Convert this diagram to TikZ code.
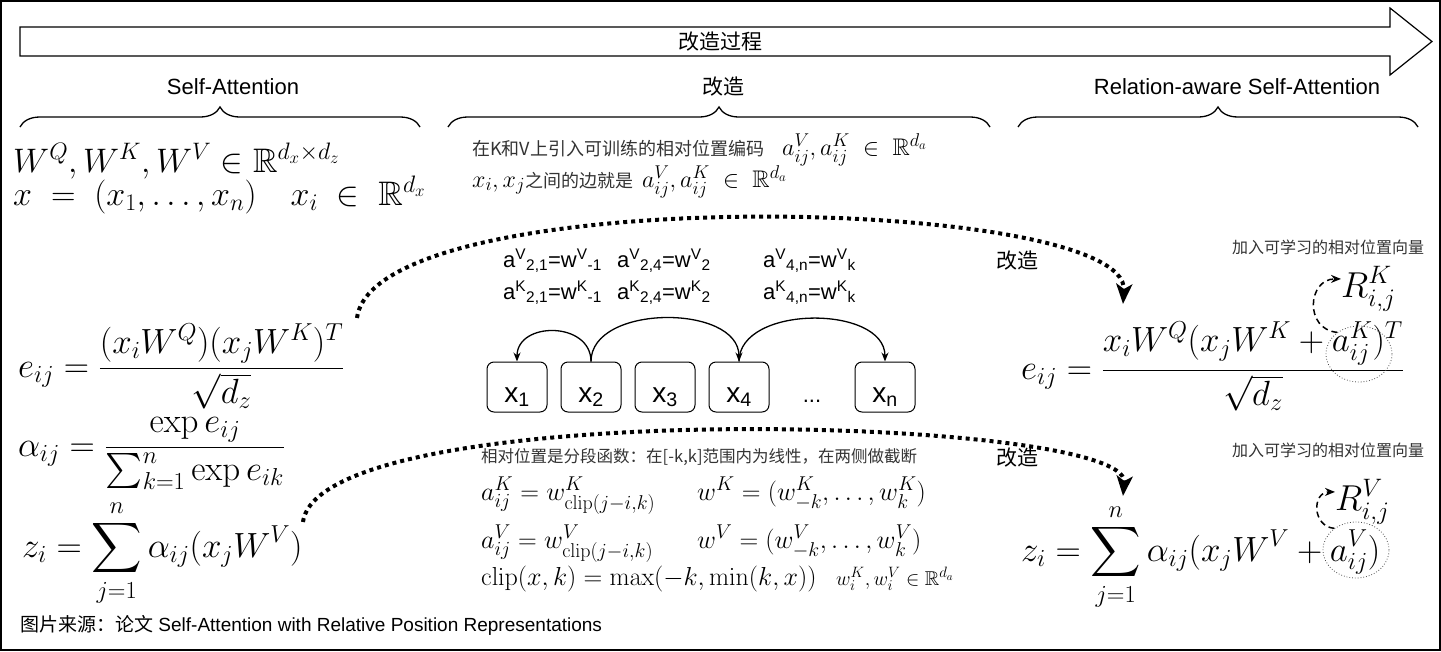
\RequirePackage{fix-cm}
\documentclass[tikz,border=0pt]{standalone}
\usepackage{amsmath,amssymb}
\usepackage[no-math]{fontspec}
\newfontfamily\arialfont{Liberation Sans}
\newfontfamily\cjkfont{Noto Sans CJK SC}
\usetikzlibrary{positioning, decorations.pathreplacing, arrows.meta, shapes.geometric}
\definecolor{inkgray}{HTML}{333333}
\DeclareMathSizes{20}{20}{15}{11}
\DeclareMathSizes{24}{24}{18.5}{13}
\DeclareMathSizes{26}{26}{20}{14}
\DeclareMathSizes{34}{34}{23.8}{17}
\DeclareMathSizes{35}{35}{24.5}{17.5}
\DeclareMathSizes{36}{36}{25.2}{18}
\newcommand{\fs}[1]{\fontsize{#1}{#1}\selectfont}
\newcommand{\mq}[1]{{\color{black}\fs{24}$#1$}}

\begin{document}
\begin{tikzpicture}[x=1pt, y=1pt,
  lbl/.style={font=\arialfont\fs{22}, inner sep=0pt},
  cjklbl/.style={font=\cjkfont\fs{21}, inner sep=0pt},
  note/.style={font=\cjkfont\fs{18}, text=inkgray, inner sep=0pt, anchor=base west},
  bigmath/.style={font=\fs{35}, inner sep=0pt, anchor=base west},
  midmath/.style={font=\fs{26}, inner sep=0pt, anchor=base west},
  arow/.style={font=\arialfont\fs{22}, inner sep=0pt, anchor=base west},
  xtxt/.style={font=\arialfont\fs{28}, text height=30pt, text depth=0pt, inner sep=0pt},
  xbox/.style={xtxt, draw, line width=1pt, rounded corners=7pt, minimum width=60pt, minimum height=50pt},
  brc/.style={decorate, decoration={brace, amplitude=20pt}, line width=1.3pt},
  hop/.style={-{Stealth[length=9pt,width=7pt]}, line width=1.3pt},
  bigdot/.style={line width=4pt, dash pattern=on 4pt off 4pt, -{Stealth[length=20pt,width=16pt,inset=5pt]}},
  dashhop/.style={line width=1.5pt, dash pattern=on 6pt off 4pt, -{Stealth[length=10pt,width=8pt]}},
  ring/.style={draw, dotted, black!70, line width=0.8pt, ellipse, minimum width=66pt, minimum height=56pt, inner sep=0pt}]
\useasboundingbox (0,0) rectangle (1441,-651);
\draw[line width=1.5pt] (0.75,-0.75) rectangle (1440,-650);

% process arrow
\draw[line width=1.2pt] (20,-27) -- (1390,-27) -- (1390,-8) -- (1432,-41.5) -- (1390,-75) -- (1390,-56) -- (20,-56) -- cycle;
\node[cjklbl] (proc) at (720,-41.5) {改造过程};

% headings
\node[lbl] (sa) at (233,-87) {Self-Attention};
\node[cjklbl] (gz) at (723,-87) {改造};
\node[lbl] (rsa) at (1237,-87) {Relation-aware Self-Attention};
\draw[brc] (20,-127) -- (420,-127);
\draw[brc] (448,-127) -- (990,-127);
\draw[brc] (1018,-127) -- (1418,-127);

% self-attention
\node[bigmath, font=\fs{34}] (wqkv) at (13,-172) {$W^Q, W^K, W^V \in \mathbb{R}^{d_x\times d_z}$};
\node[bigmath, font=\fs{34}] (xvec) at (13,-205) {$x \;=\; (x_1,\ldots,x_n) \quad x_i \;\in\; \mathbb{R}^{d_x}$};
\node[bigmath] (el) at (18,-377) {$\displaystyle e_{ij} = \frac{(x_iW^Q)(x_jW^K)^T}{\sqrt{d_z}}$};
\node[bigmath] (al) at (18,-456) {$\displaystyle \alpha_{ij} = \frac{\exp e_{ij}}{\sum_{k=1}^n \exp e_{ik}}$};
\node[bigmath] (zl) at (22,-557) {$\displaystyle z_i = \sum_{j=1}^n \alpha_{ij}(x_jW^V)$};

% middle part
\node[note] (kv) at (472,-155) {在K和V上引入可训练的相对位置编码\quad\mq{a^V_{ij}, a^K_{ij} \;\in\; \mathbb{R}^{d_a}}};
\node[note] (edge) at (472,-187) {\mq{x_i, x_j}之间的边就是\enspace\mq{a^V_{ij}, a^K_{ij} \;\in\; \mathbb{R}^{d_a}}};

\node[arow] (av21) at (503,-267) {a\textsuperscript{V}\textsubscript{2,1}=w\textsuperscript{V}\textsubscript{-1}};
\node[arow] (av24) at (617,-267) {a\textsuperscript{V}\textsubscript{2,4}=w\textsuperscript{V}\textsubscript{2}};
\node[arow] (av4n) at (763,-267) {a\textsuperscript{V}\textsubscript{4,n}=w\textsuperscript{V}\textsubscript{k}};
\node[arow] (ak21) at (503,-299) {a\textsuperscript{K}\textsubscript{2,1}=w\textsuperscript{K}\textsubscript{-1}};
\node[arow] (ak24) at (617,-299) {a\textsuperscript{K}\textsubscript{2,4}=w\textsuperscript{K}\textsubscript{2}};
\node[arow] (ak4n) at (763,-299) {a\textsuperscript{K}\textsubscript{4,n}=w\textsuperscript{K}\textsubscript{k}};

\node[xbox] (x1) at (517,-387) {x\textsubscript{1}};
\node[xbox, right=13pt of x1] (x2) {x\textsubscript{2}};
\node[xbox, right=13pt of x2] (x3) {x\textsubscript{3}};
\node[xbox, right=13pt of x3] (x4) {x\textsubscript{4}};
\node[xbox, right=85pt of x4] (xn) {x\textsubscript{n}};
\path (x4) -- (xn) node[midway, xtxt, font=\arialfont\fs{22}] (dots) {...};
\draw[hop] (x2.north) to[out=90, in=90, looseness=1.4] (x1.north);
\draw[hop] (x2.north) to[out=90, in=90] (x4.north);
\draw[hop] (x4.north) to[out=90, in=90] (xn.north);

\node[note, font=\cjkfont\fs{16.5}] (piece) at (481,-462) {相对位置是分段函数：在[-k,k]范围内为线性，在两侧做截断};
\node[midmath] (mk) at (481,-500) {$a^K_{ij} = w^K_{\mathrm{clip}(j-i,k)}$};
\node[midmath] (wk) at (697,-500) {$w^K = (w^K_{-k},\ldots,w^K_k)$};
\node[midmath] (mv) at (481,-548) {$a^V_{ij} = w^V_{\mathrm{clip}(j-i,k)}$};
\node[midmath] (wv) at (697,-548) {$w^V = (w^V_{-k},\ldots,w^V_k)$};
\node[midmath] (mc) at (481,-585) {$\mathrm{clip}(x,k) = \max(-k,\min(k,x))$};
\node[midmath, font=\fs{20}] (wkv) at (836,-585) {$w^K_i, w^V_i \in \mathbb{R}^{d_a}$};

% relation-aware
\node[note, font=\cjkfont\fs{16}] (addk) at (1232,-253) {加入可学习的相对位置向量};
\node[cjklbl] (gzk) at (1017,-261) {改造};
\node[bigmath] (er) at (1021,-379) {$\displaystyle e_{ij} = \frac{x_iW^Q(x_jW^K+a^K_{ij})^T}{\sqrt{d_z}}$};
\node[ring] (ck) at (1359,-354) {};
\node[bigmath, font=\fs{36}] (rk) at (1341,-297) {$R^K_{i,j}$};
\draw[dashhop] (ck.135) to[out=175, in=180, looseness=1.6] ([yshift=10pt]rk.west);

\node[note, font=\cjkfont\fs{16}] (addv) at (1232,-456) {加入可学习的相对位置向量};
\node[cjklbl] (gzv) at (1017,-458) {改造};
\node[bigmath] (zr) at (1021,-561) {$\displaystyle z_i = \sum_{j=1}^n \alpha_{ij}(x_jW^V + a^V_{ij})$};
\node[ring] (cv) at (1356,-550) {};
\node[bigmath, font=\fs{36}] (rv) at (1335,-510) {$R^V_{i,j}$};
\draw[dashhop] (cv.135) to[out=175, in=180, looseness=1.6] ([yshift=10pt]rv.west);

% transform arrows
\coordinate (ts) at (357,-318);
\coordinate (te) at (1123,-304);
\draw[bigdot] (ts) .. controls (375,-180) and (1130,-195) .. (te);
\coordinate (bs) at (303,-522);
\coordinate (be) at (1123,-496);
\draw[bigdot] (bs) .. controls (320,-395) and (1130,-415) .. (be);

\node[anchor=base west, inner sep=0pt] (src) at (20,-631) {{\cjkfont\fs{19}图片来源：论文}{\arialfont\fs{19} Self-Attention with Relative Position Representations}};
\end{tikzpicture}
\end{document}
